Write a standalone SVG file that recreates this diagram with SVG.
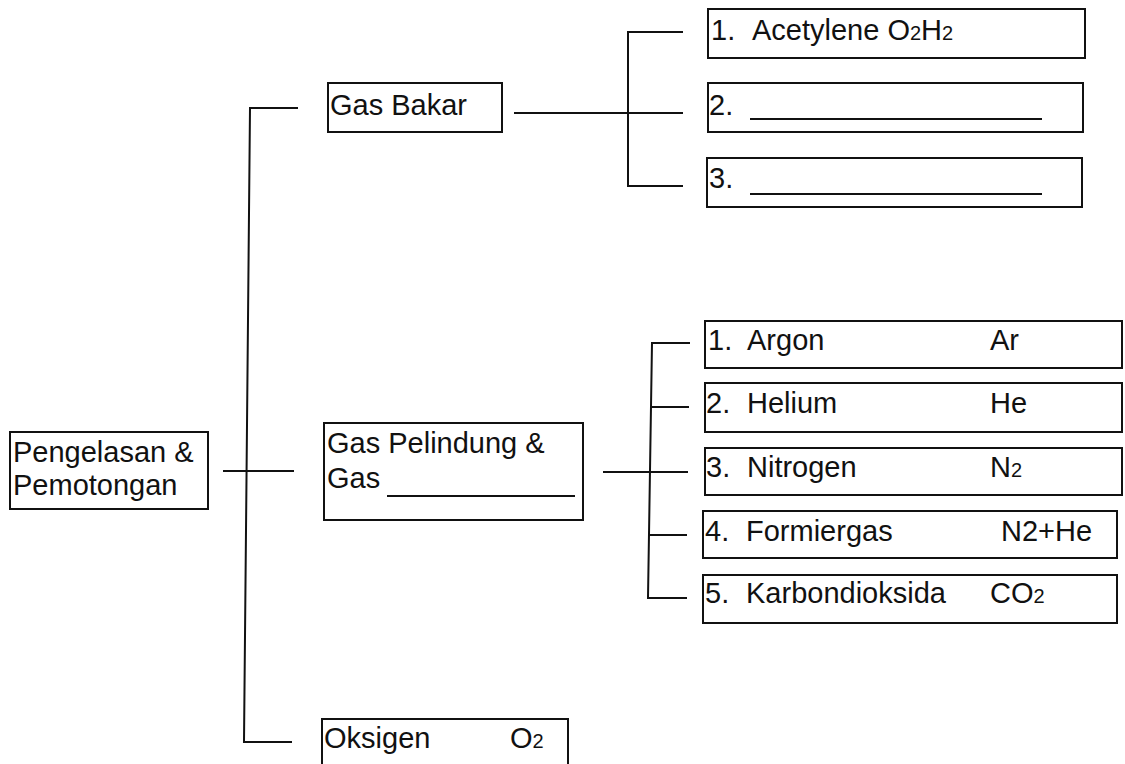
<svg xmlns="http://www.w3.org/2000/svg" width="1125" height="764" viewBox="0 0 1125 764">
<style>
.box{fill:#fff;stroke:#111;stroke-width:2}
.ln{fill:none;stroke:#111;stroke-width:2}
text{font-family:"Liberation Sans",Arial,sans-serif;font-size:29px;fill:#111}
.sub{font-size:20px}
</style>
<rect width="1125" height="764" fill="#fff"/>
<g id="connectors">
<path class="ln" d="M298,108 H250 L244,742 H292"/>
<path class="ln" d="M223,471 H294"/>
<path class="ln" d="M514,113 H683"/>
<path class="ln" d="M683,32 H628 V186 H683"/>
<path class="ln" d="M603,472 H688"/>
<path class="ln" d="M690,343 H652 L648,598 H687"/>
<path class="ln" d="M650,407 H689"/>
<path class="ln" d="M649,472 H688"/>
<path class="ln" d="M648,535 H687"/>
</g>
<g id="root">
<rect class="box" x="10" y="432" width="198" height="77"/>
<text x="13" y="462">Pengelasan &amp;</text>
<text x="13" y="495">Pemotongan</text>
</g>
<g id="gas-bakar">
<rect class="box" x="328" y="83" width="174" height="49"/>
<text x="330" y="115">Gas Bakar</text>
</g>
<g id="gb-1">
<rect class="box" x="708" y="9" width="377" height="49"/>
<text x="711" y="40">1.</text>
<text x="752" y="40">Acetylene O<tspan class="sub">2</tspan>H<tspan class="sub">2</tspan></text>
</g>
<g id="gb-2">
<rect class="box" x="708" y="83" width="375" height="49"/>
<text x="709" y="115">2.</text>
<path class="ln" d="M750,119 H1042"/>
</g>
<g id="gb-3">
<rect class="box" x="707" y="158" width="375" height="49"/>
<text x="709" y="188">3.</text>
<path class="ln" d="M750,194 H1042"/>
</g>
<g id="gas-pelindung">
<rect class="box" x="324" y="423" width="259" height="97"/>
<text x="327" y="453">Gas Pelindung &amp;</text>
<text x="327" y="488">Gas</text>
<path class="ln" d="M387,496 H575"/>
</g>
<g id="gp-1">
<rect class="box" x="705" y="321" width="417" height="47"/>
<text x="708" y="350">1.</text>
<text x="747" y="350">Argon</text>
<text x="990" y="350">Ar</text>
</g>
<g id="gp-2">
<rect class="box" x="705" y="383" width="417" height="49"/>
<text x="706" y="413">2.</text>
<text x="747" y="413">Helium</text>
<text x="990" y="413">He</text>
</g>
<g id="gp-3">
<rect class="box" x="705" y="448" width="417" height="47"/>
<text x="706" y="477">3.</text>
<text x="747" y="477">Nitrogen</text>
<text x="990" y="477">N<tspan class="sub">2</tspan></text>
</g>
<g id="gp-4">
<rect class="box" x="703" y="511" width="414" height="47"/>
<text x="705" y="541">4.</text>
<text x="746" y="541">Formiergas</text>
<text x="1001" y="541">N2+He</text>
</g>
<g id="gp-5">
<rect class="box" x="703" y="575" width="414" height="48"/>
<text x="705" y="603">5.</text>
<text x="746" y="603">Karbondioksida</text>
<text x="990" y="603">CO<tspan class="sub">2</tspan></text>
</g>
<g id="oksigen">
<rect class="box" x="322" y="719" width="246" height="60"/>
<text x="324" y="748">Oksigen</text>
<text x="510" y="748">O<tspan class="sub">2</tspan></text>
</g>
</svg>
